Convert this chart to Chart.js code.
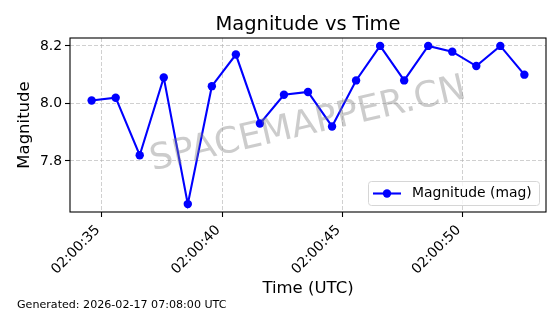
<!DOCTYPE html>
<html>
<head>
<meta charset="utf-8">
<script src="https://cdn.jsdelivr.net/npm/chart.js@4.4.1/dist/chart.umd.min.js"></script>
<style>
  html, body { margin: 0; padding: 0; background: #fff; }
  canvas { display: block; }
</style>
</head>
<body>
<canvas id="magChart" width="560" height="314"></canvas>
<script>
// seconds after 02:00:00 UTC
const timeSec = [34.57, 35.57, 36.57, 37.57, 38.57, 39.57, 40.57, 41.57, 42.57, 43.57,
                 44.57, 45.57, 46.57, 47.57, 48.57, 49.57, 50.57, 51.57, 52.57];
const magnitudes = [8.01, 8.02, 7.82, 8.09, 7.65, 8.06, 8.17, 7.93, 8.03, 8.04,
                    7.92, 8.08, 8.20, 8.08, 8.20, 8.18, 8.13, 8.20, 8.10];
const xTicks = [35, 40, 45, 50];
const yTicks = [7.8, 8.0, 8.2];

const chartTitle = 'Magnitude vs Time';
const seriesLabel = 'Magnitude (mag)';
const watermarkText = 'SPACEMAPPER.CN';
const footerText = 'Generated: 2026-02-17 07:08:00 UTC';

const FONT = '"DejaVu Sans", sans-serif';

function fmtTime(s) {
    return '02:00:' + String(Math.round(s)).padStart(2, '0');
}

// title over the axes, box, legend, watermark, footer
const extras = {
    id: 'extras',
    afterDatasetsDraw(chart) {
        const { ctx, chartArea: a } = chart;
        ctx.save();
        ctx.strokeStyle = '#000';
        ctx.lineWidth = 1.1;
        ctx.strokeRect(a.left, a.top, a.right - a.left, a.bottom - a.top);

        // legend, lower right
        const lx = 368, ly = 181, lw = 171, lh = 24;
        ctx.beginPath();
        ctx.roundRect(lx + 0.5, ly + 0.5, lw, lh, 3);
        ctx.fillStyle = 'rgba(255,255,255,0.8)';
        ctx.fill();
        ctx.strokeStyle = '#d6d6d6';
        ctx.lineWidth = 1;
        ctx.stroke();
        const my = ly + lh / 2 + 0.5;
        ctx.strokeStyle = '#0000ff';
        ctx.lineWidth = 2.1;
        ctx.beginPath();
        ctx.moveTo(373, my);
        ctx.lineTo(401, my);
        ctx.stroke();
        ctx.fillStyle = '#0000ff';
        ctx.beginPath();
        ctx.arc(387, my, 4.2, 0, Math.PI * 2);
        ctx.fill();
        ctx.fillStyle = '#000';
        ctx.font = '13.9px ' + FONT;
        ctx.textBaseline = 'middle';
        ctx.textAlign = 'left';
        ctx.fillText(chart.data.datasets[0].label, 412, my);
        ctx.restore();
    },
    afterDraw(chart) {
        const { ctx, chartArea: a } = chart;
        const cx = (a.left + a.right) / 2;

        ctx.save();
        ctx.font = '19.5px ' + FONT;
        ctx.fillStyle = '#000';
        ctx.textAlign = 'center';
        ctx.textBaseline = 'alphabetic';
        ctx.fillText(chartTitle, cx, 30);
        ctx.restore();

        ctx.save();
        ctx.translate(cx, (a.top + a.bottom) / 2);
        ctx.rotate(-13 * Math.PI / 180);
        ctx.font = '36px ' + FONT;
        ctx.fillStyle = 'rgba(128,128,128,0.4)';
        ctx.textAlign = 'center';
        ctx.textBaseline = 'middle';
        ctx.fillText(watermarkText, 0, 0);
        ctx.restore();

        ctx.save();
        ctx.font = '11.1px ' + FONT;
        ctx.fillStyle = '#000';
        ctx.textBaseline = 'middle';
        ctx.fillText(footerText, 17, 305);
        ctx.restore();
    }
};

const gridStyle = {
    color: 'rgba(176,176,176,0.6)',
    lineWidth: 1,
    tickColor: '#000',
    tickWidth: 1.1,
    tickLength: 5
};

new Chart(document.getElementById('magChart'), {
    type: 'line',
    data: {
        datasets: [{
            label: seriesLabel,
            data: timeSec.map((t, i) => ({ x: t, y: magnitudes[i] })),
            borderColor: '#0000ff',
            backgroundColor: '#0000ff',
            borderWidth: 2.1,
            pointRadius: 4.2,
            pointHoverRadius: 4.2,
            pointBorderWidth: 0,
            tension: 0,
            clip: false
        }]
    },
    options: {
        responsive: false,
        animation: false,
        layout: { padding: { left: 0, right: 14, top: 38, bottom: 0 } },
        plugins: {
            legend: { display: false },
            tooltip: { enabled: false },
            title: { display: false }
        },
        scales: {
            x: {
                type: 'linear',
                min: 33.67,
                max: 53.47,
                afterBuildTicks: s => { s.ticks = xTicks.map(v => ({ value: v })); },
                afterFit: s => { s.height = 102; },
                grid: gridStyle,
                border: { display: false, dash: [4, 2] },
                ticks: {
                    autoSkip: false,
                    minRotation: 45,
                    maxRotation: 45,
                    padding: 5,
                    labelOffset: -4,
                    color: '#000',
                    font: { family: FONT, size: 13.9 },
                    callback: v => fmtTime(v)
                },
                title: {
                    display: true,
                    text: 'Time (UTC)',
                    color: '#000',
                    font: { family: FONT, size: 16.5, lineHeight: 1.2 },
                    padding: { top: 0, bottom: 15 }
                }
            },
            y: {
                min: 7.6225,
                max: 8.2275,
                afterBuildTicks: s => { s.ticks = yTicks.map(v => ({ value: v })); },
                afterFit: s => { s.width = 70; },
                grid: gridStyle,
                border: { display: false, dash: [4, 2] },
                ticks: {
                    padding: 3,
                    color: '#000',
                    font: { family: FONT, size: 13.9 },
                    callback: v => v.toFixed(1)
                },
                title: {
                    display: true,
                    text: 'Magnitude',
                    color: '#000',
                    font: { family: FONT, size: 16.5, lineHeight: 1.2 },
                    padding: { top: 15, bottom: 0 }
                }
            }
        }
    },
    plugins: [extras]
});
</script>
</body>
</html>
